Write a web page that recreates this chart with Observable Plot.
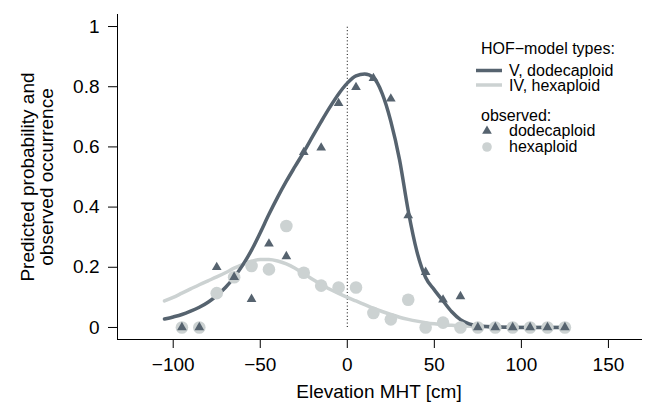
<!DOCTYPE html>
<html><head><meta charset="utf-8">
<script src="https://cdn.jsdelivr.net/npm/d3@7"></script>
<script src="https://cdn.jsdelivr.net/npm/@observablehq/plot@0.6"></script>
<style>
body{margin:0;background:#fff}
svg{font-family:"Liberation Sans",Arial,Helvetica,sans-serif}
</style>
</head><body><div id="chart"></div>
<script>
// observed occurrence per elevation class
const elevation = [-95,-85,-75,-65,-55,-45,-35,-25,-15,-5,5,15,25,35,45,55,65,75,85,95,105,115,125];
const dodecaploidObs = [0,0,0.200,0.167,0.094,0.278,0.236,0.582,0.597,0.745,0.798,0.828,0.760,0.372,0.184,0.092,0.103,0,0,0,0,0,0];
const hexaploidObs   = [0,0,0.114,0.167,0.204,0.193,0.337,0.182,0.139,0.133,0.133,0.048,0.027,0.092,0,0.016,0,0,0,0,0,0,0];

// fitted HOF curves
const curveX  = [-105,-100,-95,-90,-85,-80,-75,-70,-65,-60,-55,-50,-45,-40,-35,-30,-25,-20,-15,-10,-5,0,5,10,15,20,25,30,35,40,45,50,55,60,65,70,75,80,85,90,95,100,105,110,115,120,125];
const modelV  = [0.028,0.035,0.043,0.054,0.067,0.084,0.106,0.133,0.167,0.208,0.257,0.315,0.376,0.433,0.486,0.535,0.583,0.634,0.684,0.732,0.776,0.812,0.836,0.842,0.830,0.778,0.685,0.558,0.388,0.252,0.166,0.125,0.088,0.052,0.026,0.012,0.006,0.003,0.002,0.001,0,0,0,0,0,0,0];
const modelIV = [0.088,0.100,0.114,0.128,0.142,0.155,0.168,0.182,0.197,0.210,0.220,0.226,0.226,0.221,0.211,0.197,0.179,0.160,0.143,0.127,0.113,0.100,0.088,0.076,0.064,0.053,0.043,0.034,0.027,0.021,0.016,0.012,0.009,0.007,0.005,0.004,0.003,0.002,0.002,0.002,0.002,0.001,0.001,0.001,0.001,0.001,0.001];

const xTicks = [-100,-50,0,50,100,150];
const yTicks = [0,0.2,0.4,0.6,0.8,1];
const referenceElevation = [0];

const dark = "#56636f";
const light = "#ccd2d2";

const obs = elevation.map((x, i) => ({x, d: dodecaploidObs[i], h: hexaploidObs[i]}));
const curves = curveX.map((x, i) => ({x, v: modelV[i], iv: modelIV[i]}));

const svg = Plot.plot({
  width: 647, height: 409,
  marginLeft: 117, marginRight: 6, marginTop: 14, marginBottom: 70,
  style: {fontFamily: "Liberation Sans, Arial, Helvetica, sans-serif", background: "white", color: "black"},
  x: {domain: [-132, 169]},
  y: {domain: [-0.04, 1.04]},
  marks: [
    Plot.axisX({ticks: xTicks, tickSize: 9, tickPadding: 9, label: null, fontSize: 19, tickFormat: d3.format("d")}),
    Plot.axisY({ticks: yTicks, tickSize: 9, tickPadding: 9, label: null, fontSize: 19, tickFormat: d3.format("")}),
    Plot.frame({anchor: "left"}),
    Plot.frame({anchor: "bottom"}),
    Plot.ruleX(referenceElevation, {y1: 0, y2: 1, stroke: "black", strokeDasharray: "1,2.4", strokeWidth: 1}),
    Plot.line(curves, {x: "x", y: "iv", stroke: light, strokeWidth: 3.5, curve: "monotone-x"}),
    Plot.line(curves, {x: "x", y: "v", stroke: dark, strokeWidth: 3.5, curve: "monotone-x"}),
    Plot.dot(obs, {x: "x", y: "h", r: 6.3, fill: light, stroke: null}),
    Plot.dot(obs, {x: "x", y: "d", r: 3.6, symbol: "triangle", fill: dark, stroke: null})
  ]
});
document.getElementById("chart").appendChild(svg);

const s = d3.select(svg);
// y-axis title (two lines)
const yt = s.append("g").attr("font-size", 19).attr("text-anchor", "middle").attr("fill", "black");
yt.append("text").attr("transform", "translate(27,177) rotate(-90)").attr("dominant-baseline", "central").text("Predicted probability and");
yt.append("text").attr("transform", "translate(46,177) rotate(-90)").attr("dominant-baseline", "central").text("observed occurrence");
// x-axis title
s.append("text").attr("x", 379).attr("y", 398).attr("font-size", 19).attr("text-anchor", "middle").attr("fill", "black").text("Elevation MHT [cm]");

// legend
const lg = s.append("g").attr("font-size", 16).attr("fill", "black").attr("text-anchor", "start");
lg.append("text").attr("x", 481).attr("y", 48).attr("dominant-baseline", "central").text("HOF\u2212model types:");
lg.append("line").attr("x1", 476).attr("x2", 502).attr("y1", 70.5).attr("y2", 70.5).attr("stroke", dark).attr("stroke-width", 3.5);
lg.append("text").attr("x", 509).attr("y", 70.5).attr("dominant-baseline", "central").text("V, dodecaploid");
lg.append("line").attr("x1", 476).attr("x2", 502).attr("y1", 85).attr("y2", 85).attr("stroke", light).attr("stroke-width", 3.5);
lg.append("text").attr("x", 509).attr("y", 85).attr("dominant-baseline", "central").text("IV, hexaploid");
lg.append("text").attr("x", 481).attr("y", 115).attr("dominant-baseline", "central").text("observed:");
lg.append("path").attr("transform", "translate(487,131)").attr("d", d3.symbol(d3.symbolTriangle, Math.PI * 3.6 * 3.6)()).attr("fill", dark);
lg.append("text").attr("x", 509).attr("y", 130.5).attr("dominant-baseline", "central").text("dodecaploid");
lg.append("circle").attr("cx", 487).attr("cy", 147).attr("r", 4.8).attr("fill", light);
lg.append("text").attr("x", 509).attr("y", 146.5).attr("dominant-baseline", "central").text("hexaploid");
</script>
</body></html>
